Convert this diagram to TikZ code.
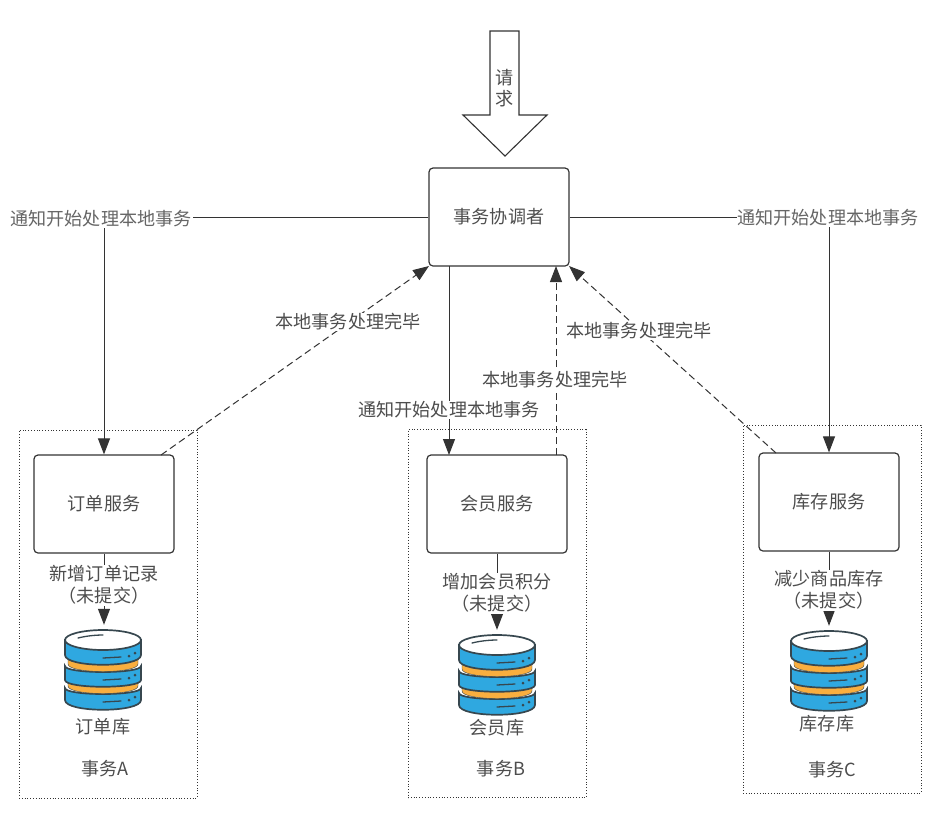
\documentclass[tikz,border=0pt]{standalone}
\usepackage{fontspec}
\setmainfont{Noto Sans CJK SC}
\usetikzlibrary{arrows.meta}
\definecolor{linedark}{HTML}{333333}
\definecolor{textgray}{HTML}{4D4D4D}
\definecolor{notegray}{HTML}{666666}
\definecolor{diskblue}{HTML}{2FA8E0}
\definecolor{diskorange}{HTML}{F9AE3F}
\definecolor{diskline}{HTML}{37474F}
\begin{document}
\begin{tikzpicture}[
	x=1pt,
	y=-1pt,
	every node/.style={font=\fontsize{18.1}{22}\selectfont, text=textgray},
	service/.style={draw=linedark, line width=1.2pt, rounded corners=4pt, minimum width=140pt, minimum height=98pt, inner sep=0pt},
	txbox/.style={draw=linedark, dotted, line width=0.8pt, minimum width=178pt, inner sep=0pt},
	note/.style={fill=white, inner sep=1pt, align=center},
	notelight/.style={note, text=notegray},
	plain/.style={inner sep=0pt, align=center},
	dbslot/.style={minimum width=78pt, minimum height=80pt, inner sep=0pt},
	flow/.style={draw=linedark, line width=1pt, -{Triangle[length=16pt,width=12pt]}},
	back/.style={flow, dash pattern=on 7pt off 4pt},
	dbicon/.pic={
		\tikzset{disk/.style={draw=diskline, line width=1.7pt, fill=diskblue}}
		\path[disk] (-38,48) -- (-38,60) .. controls (-38,73) and (38,73) .. (38,60) -- (38,48) .. controls (38,56) and (-38,56) .. (-38,48) -- cycle;
		\path[disk, fill=diskorange, line width=0.4pt] (-35,38) -- (-35,46) .. controls (-35,56) and (35,56) .. (35,46) -- (35,38) -- cycle;
		\path[disk] (-38,26) -- (-38,40) .. controls (-38,49) and (38,49) .. (38,40) -- (38,26) .. controls (38,34) and (-38,34) .. (-38,26) -- cycle;
		\path[disk, fill=diskorange, line width=0.4pt] (-35,15) -- (-35,24) .. controls (-35,34) and (35,34) .. (35,24) -- (35,15) -- cycle;
		\path[disk] (-38,0) -- (-38,15) .. controls (-38,28) and (38,28) .. (38,15) -- (38,0) -- cycle;
		\path[disk, fill=white] (0,0) ellipse [x radius=38, y radius=10];
		\draw[diskline, line width=1.3pt, line cap=round] (-25,-2) .. controls (-17,-4) and (-8,-5) .. (0,-5);
		\foreach \dy in {0,22,44} {
			\draw[diskline, line width=1.3pt, line cap=round] (0,18+\dy) -- (18,17+\dy);
			\fill[diskline] (26,16+\dy) circle (1.5) (32,13+\dy) circle (1.5);
		}
	}
	]
	\useasboundingbox (0,0) rectangle (950,820);

	% transaction frames
	\node[txbox, minimum height=368pt] (txA) at (108,614) {};
	\node[txbox, minimum height=368pt] (txB) at (497,613.5) {};
	\node[txbox, minimum height=368pt] (txC) at (832,609) {};

	% services
	\node[service] (coord) at (499,217) {事务协调者};
	\node[service] (svcA) at (104,504) {订单服务};
	\node[service] (svcB) at (497,504) {会员服务};
	\node[service] (svcC) at (829,502) {库存服务};

	% request arrow
	\draw[draw=linedark, line width=1.1pt, fill=white] (490,31) -- (519,31) -- (519,115) -- (547,115) -- (505,156) -- (463,115) -- (490,115) -- cycle;
	\node[plain] (req) at (505,88) {请\\[-1pt]求};

	% databases
	\node[dbslot] (dbA) at (103,670) {};
	\node[dbslot] (dbB) at (497,675) {};
	\node[dbslot] (dbC) at (829,671) {};
	\pic at (103,640) {dbicon};
	\pic at (497,645) {dbicon};
	\pic at (829,641) {dbicon};

	% free ends on the coordinator and the services
	\coordinate (coordS) at (449,266);
	\coordinate (backA) at (161,455);
	\coordinate (backB) at (556,455);
	\coordinate (backC) at (776,453);
	\coordinate (coordSW) at (429,266);
	\coordinate (coordSE) at (569,266);
	\coordinate (coordSB) at (556,266);
	\coordinate (svcBN) at (449,455);

	\draw[flow] (coord.west) -| (svcA.north);
	\draw[flow] (coord.east) -| (svcC.north);
	\draw[flow] (coordS) -- (svcBN);
	\draw[back] (backA) -- (coordSW);
	\draw[back] (backB) -- (coordSB);
	\draw[back] (backC) -- (coordSE);

	\draw[flow, shorten >=5pt] (svcA.south) -- (svcA.south |- dbA.north);
	\draw[flow, shorten >=5pt] (svcB.south) -- (svcB.south |- dbB.north);
	\draw[flow, shorten >=5pt] (svcC.south) -- (svcC.south |- dbC.north);

	% labels
	\node[notelight] (startA) at (101,219) {通知开始处理本地事务};
	\node[notelight] (startC) at (828,218) {通知开始处理本地事务};
	\node[note] (startB) at (449,410) {通知开始处理本地事务};
	\node[note] (doneA) at (348,322) {本地事务处理完毕};
	\node[note] (doneB) at (555,380) {本地事务处理完毕};
	\node[note] (doneC) at (639,331) {本地事务处理完毕};

	\node[note] (opA) at (104,585) {新增订单记录\\（未提交）};
	\node[note] (opB) at (497,593) {增加会员积分\\（未提交）};
	\node[note] (opC) at (829,590) {减少商品库存\\（未提交）};

	\node[plain] (nameA) at (103,727) {订单库};
	\node[plain] (nameB) at (497,728) {会员库};
	\node[plain] (nameC) at (827,724) {库存库};
	\node[plain] (capA) at (105,769) {事务A};
	\node[plain] (capB) at (501,769) {事务B};
	\node[plain] (capC) at (832,770) {事务C};
\end{tikzpicture}
\end{document}
